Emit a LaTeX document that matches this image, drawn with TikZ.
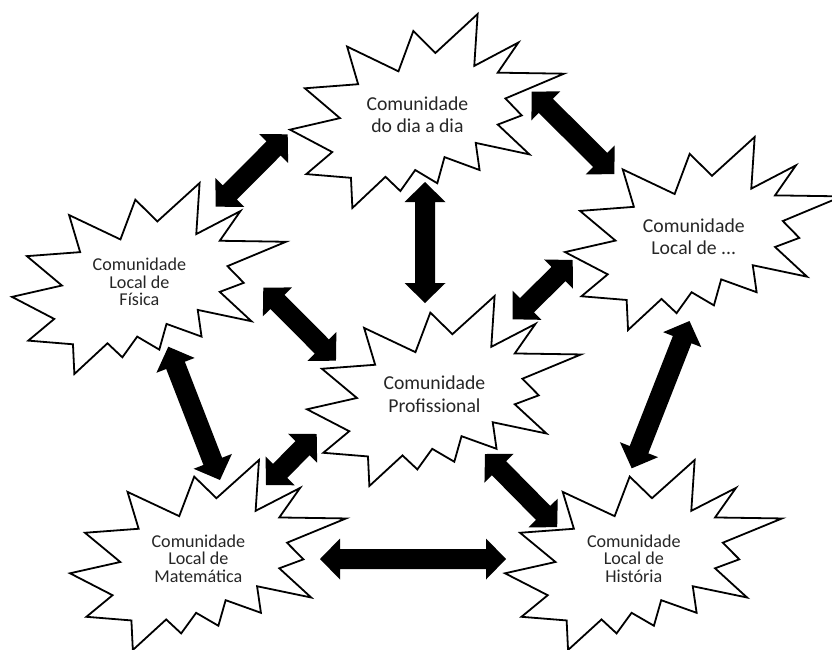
\documentclass[tikz,border=0pt]{standalone}
\usepackage{fontspec}
\setmainfont{Carlito}
\usetikzlibrary{calc}

\tikzset{
  burst/.style={draw=black, fill=white, line width=1.8pt, line join=miter, miter limit=25},
  bursttext/.style={align=center, text=black!85, inner sep=0pt,
    font=\fontsize{19.7}{22.5}\selectfont},
  bursttextsmall/.style={bursttext, font=\fontsize{18.1}{17.6}\selectfont},
  blockarrow/.style={fill=black},
}

% Irregular explosion outline inside a box of w x h, anchored at its top-left corner
\newcommand\burstshape[5]{% #1 name, #2 x0, #3 y0, #4 w, #5 h
  \begin{scope}[shift={(#2,#3)}, xscale=#4/100, yscale=#5/100]
    \draw[burst] (53.06,20.10) -- (68.47,0) -- (67.25,26.75) -- (83.37,14.69)
      -- (75.83,30.24) -- (100,30.76) -- (78.63,43.53) -- (84.58,52.27)
      -- (75.83,56.99) -- (87.39,72.37) -- (67.78,66.44) -- (69.18,80.42)
      -- (56.39,73.77) -- (53.76,87.23) -- (45.70,80.42) -- (40.28,91.26)
      -- (34.85,83.91) -- (22.76,100) -- (22.25,84.44) -- (5.95,82.52)
      -- (15.42,71.16) -- (0,59.62) -- (18.22,53.67) -- (5.43,38.29)
      -- (24.87,36.19) -- (20.84,16.78) -- (39.58,29.55) -- (45.01,8.74) -- cycle;
    \coordinate (#1) at (46.5,51.8);
  \end{scope}}

% Double-headed block arrow between two points
\newcommand\dblarrow[2]{%
  \fill[blockarrow] let \p1=(#1), \p2=(#2), \p3=($(#2)-(#1)$),
      \n1={atan2(\y3,\x3)}, \n2={veclen(\x3,\y3)} in
    (\p1) -- ++(\n1+45.7:28.64pt) -- ++(\n1-90:10.5pt)
      -- ++(\n1:{(\n2-40)*1pt}) -- ++(\n1+90:10.5pt)
      -- ++(\n1-45.7:28.64pt) -- ++(\n1-134.3:28.64pt)
      -- ++(\n1+90:10.5pt) -- ++(\n1+180:{(\n2-40)*1pt})
      -- ++(\n1-90:10.5pt) -- cycle;}

\begin{document}
\begin{tikzpicture}[x=1pt, y=-1pt]
  \useasboundingbox (0,0) rectangle (832,649);

  % communities
  \burstshape{dia-c}{290}{14}{274}{194}
  \node[bursttext] (dia) at (dia-c) {Comunidade\\do dia a dia};

  \burstshape{out-c}{565}{137}{277}{193}
  \node[bursttext] (out) at (out-c) {Comunidade\\Local de ...};

  \burstshape{fis-c}{12}{183}{274}{191}
  \node[bursttextsmall] (fis) at (fis-c) {Comunidade\\Local de\\Física};

  \burstshape{pro-c}{307}{296}{274}{190}
  \node[bursttext] (pro) at (pro-c) {Comunidade\\Profissional};

  \burstshape{mat-c}{70}{460}{276}{190}
  \node[bursttextsmall] (mat) at (mat-c) {Comunidade\\Local de\\Matemática};

  \burstshape{his-c}{505}{460}{277}{190}
  \node[bursttextsmall] (his) at (his-c) {Comunidade\\Local de\\História};

  % arrow end points
  \coordinate (dia-fis-a) at (287.7,134.3);  \coordinate (dia-fis-b) at (215.7,206.7);
  \coordinate (dia-out-a) at (531.7,91.7);   \coordinate (dia-out-b) at (614.6,174.3);
  \coordinate (dia-pro-a) at (425,182);      \coordinate (dia-pro-b) at (425,303);
  \coordinate (out-pro-a) at (572.7,260);    \coordinate (out-pro-b) at (512.7,319.3);
  \coordinate (fis-pro-a) at (263.3,287.7);  \coordinate (fis-pro-b) at (336,360.7);
  \coordinate (out-his-a) at (689.5,321);    \coordinate (out-his-b) at (631.7,468.3);
  \coordinate (fis-mat-a) at (168.3,346.7);  \coordinate (fis-mat-b) at (220,480);
  \coordinate (pro-mat-a) at (316.7,434);    \coordinate (pro-mat-b) at (266,485);
  \coordinate (pro-his-a) at (485,454);      \coordinate (pro-his-b) at (557.3,527.3);
  \coordinate (mat-his-a) at (320,559);      \coordinate (mat-his-b) at (506,559);

  % links
  \dblarrow{dia-fis-a}{dia-fis-b}
  \dblarrow{dia-out-a}{dia-out-b}
  \dblarrow{dia-pro-a}{dia-pro-b}
  \dblarrow{out-pro-a}{out-pro-b}
  \dblarrow{fis-pro-a}{fis-pro-b}
  \dblarrow{out-his-a}{out-his-b}
  \dblarrow{fis-mat-a}{fis-mat-b}
  \dblarrow{pro-mat-a}{pro-mat-b}
  \dblarrow{pro-his-a}{pro-his-b}
  \dblarrow{mat-his-a}{mat-his-b}
\end{tikzpicture}
\end{document}
